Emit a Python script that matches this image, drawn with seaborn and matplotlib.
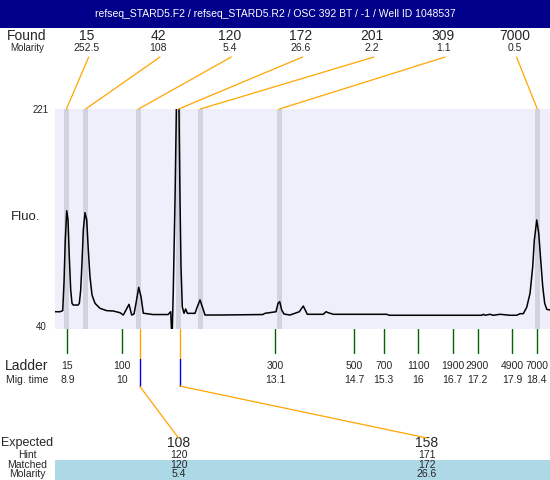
import numpy as np
import pandas as pd
import seaborn as sns
import matplotlib.pyplot as plt
from matplotlib.patches import Rectangle, ConnectionPatch
from matplotlib.transforms import blended_transform_factory

sns.set_style("white")
plt.rcParams['font.family'] = ['Liberation Sans', 'DejaVu Sans']

title = "refseq_STARD5.F2 / refseq_STARD5.R2 / OSC 392 BT / -1 / Well ID 1048537"

# electropherogram trace (migration time, fluorescence)
trace_time = [8.649, 8.750, 8.805, 8.831, 8.857, 8.886, 8.912, 8.938, 8.967, 8.993,
              9.019, 9.115, 9.141, 9.169, 9.195, 9.222, 9.256, 9.291, 9.323, 9.357,
              9.398, 9.459, 9.560, 9.695, 9.829, 9.965, 10.031, 10.147, 10.201, 10.248,
              10.288, 10.343, 10.390, 10.436, 10.632, 10.936, 10.991, 11.017, 11.043, 11.078,
              11.112, 11.153, 11.179, 11.199, 11.225, 11.260, 11.294, 11.327, 11.482, 11.529,
              11.584, 11.630, 11.685, 11.989, 12.853, 12.899, 13.122, 13.162, 13.197, 13.237,
              13.284, 13.405, 13.593, 13.674, 13.755, 14.079, 14.134, 14.180, 14.282, 15.362,
              15.415, 17.285, 17.317, 17.352, 17.453, 17.520, 17.655, 17.858, 17.993, 18.060,
              18.127, 18.196, 18.263, 18.317, 18.350, 18.399, 18.439, 18.479, 18.520, 18.560,
              18.601, 18.667]
trace_fluo = [54.2, 54.2, 55.1, 77.8, 113.2, 137.3, 129.7, 99.5, 72.1, 61.1,
              59.7, 59.7, 61.1, 72.1, 94.1, 121.4, 135.7, 129.7, 105.0, 83.0,
              68.0, 61.1, 57.0, 55.1, 54.8, 53.4, 51.5, 60.3, 51.5, 52.3,
              61.1, 74.3, 66.6, 53.0, 51.9, 51.9, 54.2, 30.0, 72.1, 146.1,
              240.0, 240.0, 146.1, 91.3, 58.3, 52.9, 56.5, 52.9, 52.9, 58.3,
              63.9, 58.3, 51.5, 51.5, 51.9, 52.9, 54.2, 61.1, 62.5, 55.6,
              52.3, 51.5, 54.2, 58.9, 52.1, 52.1, 54.2, 53.4, 52.1, 52.1,
              51.3, 51.3, 52.1, 51.3, 52.1, 51.3, 52.1, 51.3, 51.3, 52.6,
              52.6, 57.9, 69.4, 91.3, 113.2, 129.7, 118.7, 96.8, 74.8, 61.1,
              56.2, 55.6]

found_sizes = ["15", "42", "120", "172", "201", "309", "7000"]
found_molarity = ["252.5", "108", "5.4", "26.6", "2.2", "1.1", "0.5"]
found_times = [8.88, 9.27, 10.34, 11.15, 11.59, 13.19, 18.41]

ladder_sizes = ["15", "100", "300", "500", "700", "1100", "1900", "2900", "4900", "7000"]
ladder_times = [8.9, 10, 13.1, 14.7, 15.3, 16, 16.7, 17.2, 17.9, 18.4]
ladder_labels = ["8.9", "10", "13.1", "14.7", "15.3", "16", "16.7", "17.2", "17.9", "18.4"]

expected = ["108", "158"]
hint = ["120", "171"]
matched = ["120", "172"]
matched_molarity = ["5.4", "26.6"]
matched_times = [10.36, 11.17]

t_min, t_max = 8.649, 18.667
y_min, y_max = 40, 221

W, H = 550, 480
fig = plt.figure(figsize=(W / 100, H / 100), dpi=100)

# overlay in pixel coordinates for the text panels
ov = fig.add_axes([0, 0, 1, 1])
ov.set_xlim(0, W)
ov.set_ylim(H, 0)
ov.axis('off')

ax = fig.add_axes([55 / W, 1 - 329 / H, 495 / W, 220 / H])
ax.set_facecolor('#efeffc')
for t in found_times:
    ax.axvspan(t - 0.05, t + 0.05, color='#d3d3e0', lw=0)
df = pd.DataFrame({'time': trace_time, 'fluo': trace_fluo})
sns.lineplot(data=df, x='time', y='fluo', ax=ax, color='black', lw=1.1,
             sort=False, estimator=None)
ax.set_xlim(t_min, t_max)
ax.set_ylim(y_min, y_max)
ax.set_xticks([])
ax.set_yticks([])
ax.set_xlabel('')
ax.set_ylabel('')
for s in ax.spines.values():
    s.set_visible(False)

orange = '#ffa500'
trans = blended_transform_factory(ax.transData, ov.transData)

# title bar
ov.add_patch(Rectangle((0, 0), W, 28, color='#00008b', lw=0))
ov.text(W / 2, 14, title, color='white', ha='center', va='center', fontsize=7.5)

# found peaks
ov.text(27, 36, "Found", ha='center', va='center', fontsize=10)
ov.text(27, 48, "Molarity", ha='center', va='center', fontsize=7)
col_x = 86.7 + 71.3 * np.arange(len(found_sizes))
for cx, sz, mol, t in zip(col_x, found_sizes, found_molarity, found_times):
    ov.text(cx, 36, sz, ha='center', va='center', fontsize=10)
    ov.text(cx, 48, mol, ha='center', va='center', fontsize=7.5)
    con = ConnectionPatch(xyA=(cx + 2, 57), coordsA=ov.transData,
                          xyB=(t, y_max), coordsB=ax.transData,
                          color=orange, lw=0.9)
    fig.add_artist(con)

# y labels
ov.text(41, 110, str(y_max), ha='center', va='center', fontsize=7)
ov.text(41, 327, str(y_min), ha='center', va='center', fontsize=7)
ov.text(26, 217, "Fluo.", ha='center', va='center', fontsize=9.5)

# ladder
ov.text(27, 366, "Ladder", ha='center', va='center', fontsize=10)
ov.text(27, 379.6, "Mig. time", ha='center', va='center', fontsize=7.5)
for t, sz, lab in zip(ladder_times, ladder_sizes, ladder_labels):
    ov.plot([t, t], [329, 353], color='#006400', lw=1, transform=trans)
    ov.text(t, 366, sz, ha='center', va='center', fontsize=7.5, transform=trans)
    ov.text(t, 379.6, lab, ha='center', va='center', fontsize=7.5, transform=trans)

# expected / matched
ov.add_patch(Rectangle((54.5, 460), W - 54.5, H - 460, color='#add8e6', lw=0))
ov.text(27, 443, "Expected", ha='center', va='center', fontsize=9)
ov.text(27, 455.5, "Hint", ha='center', va='center', fontsize=7.5)
ov.text(27, 465.3, "Matched", ha='center', va='center', fontsize=7.5)
ov.text(27, 474, "Molarity", ha='center', va='center', fontsize=7.5)
exp_x = [178.5, 427]
for ex, e, h, m, mol, t in zip(exp_x, expected, hint, matched, matched_molarity, matched_times):
    ov.plot([t, t], [329, 358.6], color=orange, lw=1, transform=trans)
    ov.plot([t, t], [358.6, 386], color='blue', lw=1, transform=trans)
    con = ConnectionPatch(xyA=(t, 386), coordsA=trans,
                          xyB=(ex, 438), coordsB=ov.transData,
                          color=orange, lw=0.9)
    fig.add_artist(con)
    ov.text(ex, 443, e, ha='center', va='center', fontsize=10)
    ov.text(ex, 455.5, h, ha='center', va='center', fontsize=7.5)
    ov.text(ex, 465.3, m, ha='center', va='center', fontsize=7.5)
    ov.text(ex, 474, mol, ha='center', va='center', fontsize=7.5)

fig.savefig('out.png', dpi=100)
